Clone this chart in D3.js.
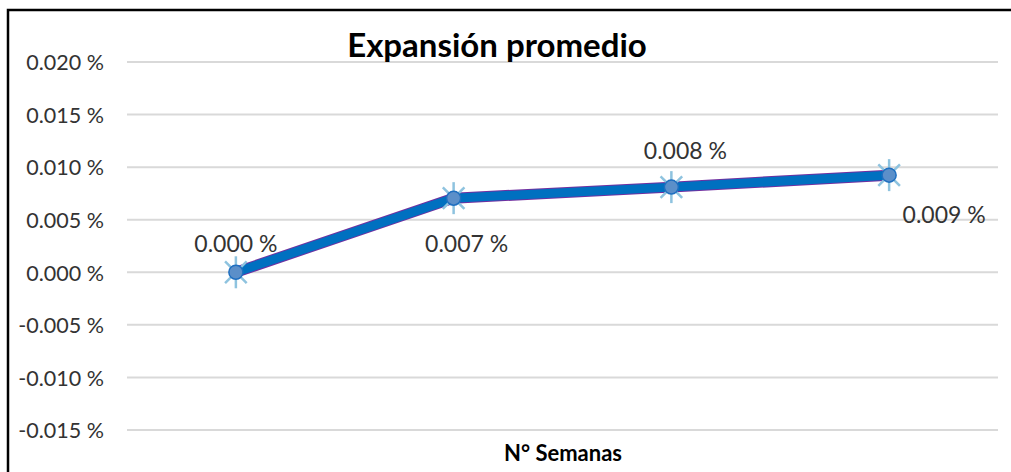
<!DOCTYPE html>
<html><head><meta charset="utf-8">
<script src="https://cdn.jsdelivr.net/npm/d3@7"></script>
<style>body{margin:0;background:#fff}</style>
</head><body>
<script>
const categories = ["1", "2", "3", "4"];
const values = [0.0, 0.00705, 0.0081, 0.00924];
const labels = ["0.000 %", "0.007 %", "0.008 %", "0.009 %"];
const yTicks = [-0.015, -0.010, -0.005, 0.0, 0.005, 0.010, 0.015, 0.020];
const title = "Expansión promedio";
const xTitle = "N° Semanas";

// label placement offsets (style, relative to point)
const labelOffsets = [[0, -20], [13, 54], [14, -28], [55, 48]];

const W = 1011, H = 472;
const FONT = "Lato, 'Open Sans', sans-serif";
const svg = d3.select("body").append("svg").attr("width", W).attr("height", H);
svg.append("rect").attr("width", W).attr("height", H).attr("fill", "#fff");
svg.append("path").attr("d", `M8,${H+2} L8,10 L${W+2},10`).attr("fill","none").attr("stroke","#000").attr("stroke-width",2.5);

const x = d3.scaleBand().domain(categories).range([127, 998]);
const y = d3.scaleLinear().domain([-0.015, 0.020]).range([430, 62]);

svg.append("g").selectAll("line").data(yTicks).join("line")
  .attr("x1", 127).attr("x2", 998)
  .attr("y1", d => y(d)).attr("y2", d => y(d))
  .attr("stroke", "#d9d9d9").attr("stroke-width", 2);

const yAxis = d3.axisLeft(y).tickValues(yTicks).tickSize(0).tickPadding(0)
  .tickFormat(d => d.toFixed(3) + " %");
const ga = svg.append("g").attr("transform", "translate(104,0)").call(yAxis);
ga.select(".domain").remove();
ga.selectAll("text").attr("font-family", FONT).attr("font-size", 21.5).attr("fill", "#333").attr("dy", "0.36em");

const cx = d => x(d) + x.bandwidth() / 2;
const pts = categories.map((c, i) => [cx(c), y(values[i])]);
const line = d3.line();
svg.append("path").attr("d", line(pts)).attr("fill", "none").attr("stroke", "#7030A0").attr("stroke-width", 11).attr("stroke-linejoin","round");
svg.append("path").attr("d", line(pts)).attr("fill", "none").attr("stroke", "#0070C0").attr("stroke-width", 9).attr("stroke-linejoin","round");

const mk = svg.append("g").selectAll("g").data(pts).join("g").attr("transform", d => `translate(${d[0]},${d[1]})`);
const r = 15;
const dg = r * 0.72;
[[0,-r-1,0,r+1],[-dg,-dg,dg,dg],[-dg,dg,dg,-dg]].forEach(s => {
  mk.append("line").attr("x1", s[0]).attr("y1", s[1]).attr("x2", s[2]).attr("y2", s[3])
    .attr("stroke", "#8EC3DF").attr("stroke-width", 2.5);
});
mk.append("circle").attr("r", 7).attr("fill", "#5B8FC9").attr("stroke", "#1F6FC0").attr("stroke-width", 1.5);

svg.append("g").selectAll("text").data(pts).join("text")
  .attr("x", (d, i) => d[0] + labelOffsets[i][0])
  .attr("y", (d, i) => d[1] + labelOffsets[i][1])
  .attr("text-anchor", "middle")
  .attr("font-family", FONT).attr("font-size", 23).attr("fill", "#333")
  .text((d, i) => labels[i]);

svg.append("text").attr("x", 497).attr("y", 57).attr("text-anchor", "middle")
  .attr("font-family", FONT).attr("font-weight", "bold").attr("font-size", 33).attr("fill", "#000")
  .text(title);
svg.append("text").attr("x", 563).attr("y", 461).attr("text-anchor", "middle")
  .attr("font-family", FONT).attr("font-weight", "bold").attr("font-size", 22).attr("fill", "#000")
  .text(xTitle);
</script>
</body></html>
